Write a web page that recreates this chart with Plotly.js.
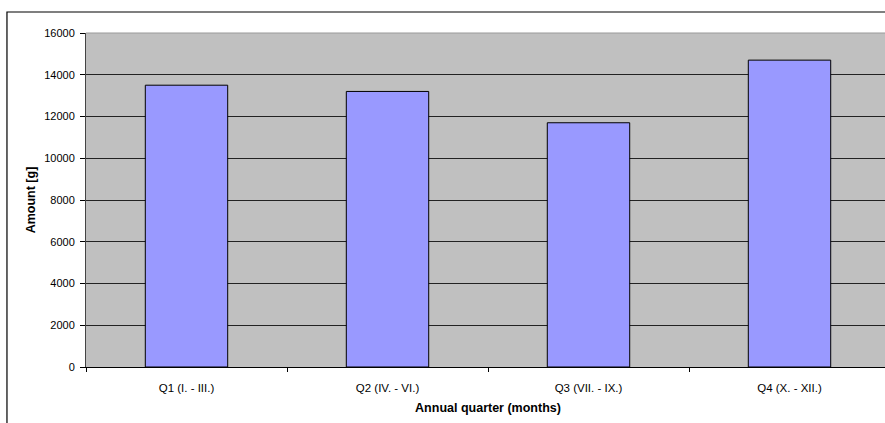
<!DOCTYPE html>
<html>
<head>
<meta charset="utf-8">
<script src="https://cdn.plot.ly/plotly-3.0.1.min.js"></script>
<style>
html,body{margin:0;padding:0;overflow:hidden;background:#fff;}
#chart{width:890px;height:423px;}
</style>
</head>
<body>
<div id="chart"></div>
<script>
const categories = ["Q1 (I. - III.)", "Q2 (IV. - VI.)", "Q3 (VII. - IX.)", "Q4 (X. - XII.)"];
const amounts = [13500, 13200, 11700, 14700];
const yTicks = [0, 2000, 4000, 6000, 8000, 10000, 12000, 14000, 16000];

const trace = {
  type: 'bar',
  x: categories,
  y: amounts,
  width: 0.41,
  marker: {color: '#9999ff', line: {color: '#000000', width: 1}},
  hoverinfo: 'none'
};

const fam = 'Liberation Sans, Arial, sans-serif';

const layout = {
  width: 890,
  height: 423,
  margin: {l: 86, r: 0, t: 33, b: 56, pad: 0},
  paper_bgcolor: '#ffffff',
  plot_bgcolor: '#c0c0c0',
  font: {family: fam, size: 11, color: '#000'},
  showlegend: false,
  xaxis: {
    type: 'category',
    tickson: 'boundaries',
    ticks: 'outside',
    ticklen: 4,
    tickcolor: '#000',
    showline: true,
    linecolor: '#000',
    linewidth: 1,
    showgrid: false,
    ticklabelstandoff: 10,
    tickfont: {family: fam, size: 11.5, color: '#000'},
    title: {text: 'Annual quarter (months)', font: {family: fam, size: 12.5, color: '#000', weight: 'bold'}, standoff: 10}
  },
  yaxis: {
    range: [0, 16000],
    tickvals: yTicks,
    ticktext: yTicks.map(String),
    ticks: 'outside',
    ticklen: 5,
    tickcolor: '#000',
    showline: true,
    linecolor: '#444',
    linewidth: 1,
    showgrid: true,
    gridcolor: '#222',
    gridwidth: 1,
    zeroline: false,
    ticklabelstandoff: 3,
    tickfont: {family: fam, size: 11, color: '#000'},
    title: {text: 'Amount [g]', font: {family: fam, size: 12.5, color: '#000', weight: 'bold'}, standoff: 5}
  },
  shapes: [
    {type: 'line', xref: 'paper', yref: 'paper', x0: 0, x1: 1.1, y0: 1, y1: 1, line: {color: '#999', width: 1}},
    {type: 'rect', xref: 'paper', yref: 'paper', x0: -0.0983, x1: 1.2, y0: -0.3, y1: 1.0629, line: {color: '#000', width: 1.2}, fillcolor: 'rgba(0,0,0,0)', layer: 'below'}
  ]
};

Plotly.newPlot('chart', [trace], layout, {displayModeBar: false, staticPlot: true});
</script>
</body>
</html>
